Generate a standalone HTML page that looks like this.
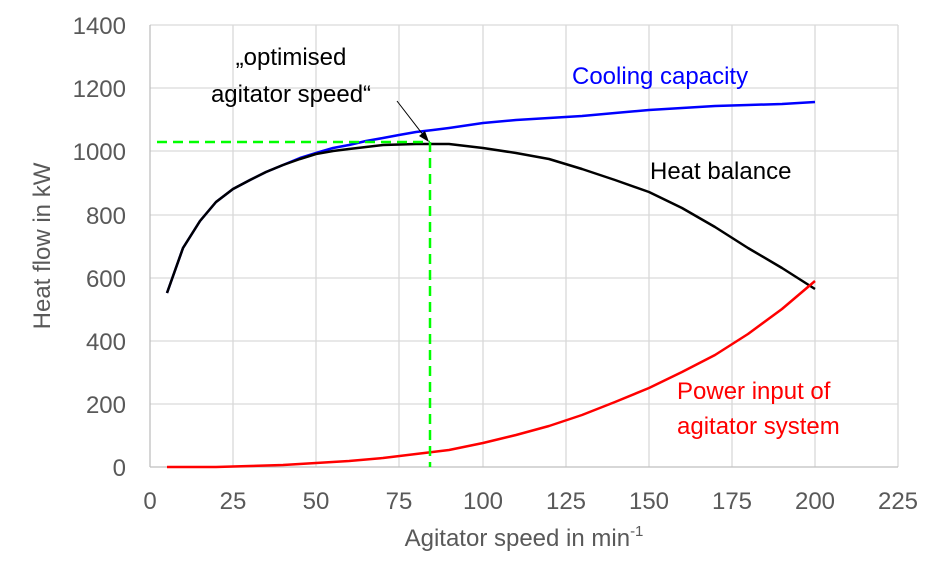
<!DOCTYPE html>
<html><head><meta charset="utf-8"><style>body{margin:0;background:#fff}svg{display:block}text{font-family:"Liberation Sans",sans-serif}</style></head><body>
<svg width="945" height="577" xmlns="http://www.w3.org/2000/svg">
<g stroke="#d9d9d9" stroke-width="1.3">
<line x1="150" y1="25" x2="898" y2="25"/><line x1="150" y1="88" x2="898" y2="88"/><line x1="150" y1="151" x2="898" y2="151"/><line x1="150" y1="215" x2="898" y2="215"/><line x1="150" y1="278" x2="898" y2="278"/><line x1="150" y1="341" x2="898" y2="341"/><line x1="150" y1="404" x2="898" y2="404"/>
<line x1="233" y1="25" x2="233" y2="467"/><line x1="316" y1="25" x2="316" y2="467"/><line x1="399" y1="25" x2="399" y2="467"/><line x1="483" y1="25" x2="483" y2="467"/><line x1="566" y1="25" x2="566" y2="467"/><line x1="649" y1="25" x2="649" y2="467"/><line x1="732" y1="25" x2="732" y2="467"/><line x1="815" y1="25" x2="815" y2="467"/><line x1="898" y1="25" x2="898" y2="467"/>
</g>
<line x1="150" y1="25" x2="150" y2="467" stroke="#bfbfbf" stroke-width="1.3"/>
<line x1="150" y1="467" x2="898" y2="467" stroke="#bfbfbf" stroke-width="1.3"/>
<g fill="#595959" font-size="24" text-anchor="end">
<text x="126" y="34">1400</text><text x="126" y="97">1200</text><text x="126" y="160">1000</text><text x="126" y="224">800</text><text x="126" y="287">600</text><text x="126" y="350">400</text><text x="126" y="413">200</text><text x="126" y="476">0</text>
</g>
<g fill="#595959" font-size="24" text-anchor="middle">
<text x="150" y="509">0</text><text x="233" y="509">25</text><text x="316" y="509">50</text><text x="399" y="509">75</text><text x="483" y="509">100</text><text x="566" y="509">125</text><text x="649" y="509">150</text><text x="732" y="509">175</text><text x="815" y="509">200</text><text x="898" y="509">225</text>
<text x="524" y="546">Agitator speed in min<tspan font-size="15" dy="-10">-1</tspan></text>
<text transform="translate(50,246) rotate(-90)">Heat flow in kW</text>
</g>
<g fill="none" stroke-width="2.5" stroke-linejoin="round">
<polyline stroke="#0000ff" points="167,293 183,248 200,221 216,202 233,189 250,180 266,172 283,165 300,158 316,153 333,148 349,145 366,141 383,138 399,135 416,132 433,130 449,128 483,123 516,120 549,118 582,116 615,113 649,110 682,108 715,106 748,105 782,104 815,102"/>
<polyline stroke="#000" points="167,293 183,248 200,221 216,202 233,189 250,180 266,172 283,165 300,159 316,154 333,151 349,149 366,147 383,145 416,144 449,144 483,148 516,153 549,159 582,169 615,180 649,192 682,208 715,227 748,248 782,268 815,289"/>
<polyline stroke="#ff0000" points="167,467 216,467 250,466 283,465 316,463 349,461 383,458 416,454 449,450 483,443 516,435 549,426 582,415 615,402 649,388 682,372 715,355 748,334 782,309 815,281"/>
</g>
<g stroke="#00ff00" stroke-width="2.5" stroke-dasharray="10,6" fill="none">
<line x1="157" y1="142" x2="430" y2="142"/><line x1="430" y1="142" x2="430" y2="467"/>
</g>
<line x1="397" y1="101" x2="424" y2="136" stroke="#000" stroke-width="1"/>
<polygon points="429,142 419,136 425,131" fill="#000"/>
<g font-size="24" text-anchor="middle">
<text x="291" y="65">„optimised</text><text x="291" y="102">agitator speed“</text>
</g>
<text x="572" y="84" font-size="24" fill="#0000ff">Cooling capacity</text>
<text x="650" y="179" font-size="24" fill="#000">Heat balance</text>
<text x="677" y="399" font-size="24" fill="#ff0000">Power input of</text>
<text x="677" y="434" font-size="24" fill="#ff0000">agitator system</text>
</svg>
</body></html>
